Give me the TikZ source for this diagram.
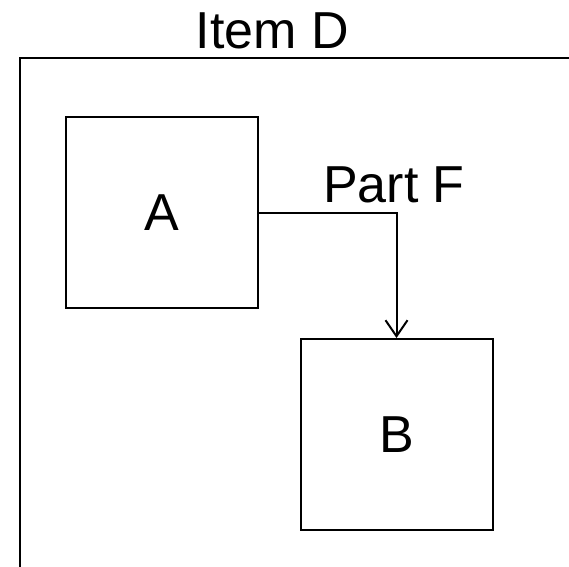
\documentclass[tikz,border=0pt]{standalone}
\usepackage{fontspec}
\setmainfont{Liberation Sans}
\usetikzlibrary{arrows.meta}
\begin{document}
\begin{tikzpicture}[x=1bp,y=-1bp,
  every node/.style={font=\fontsize{52bp}{60bp}\selectfont, inner sep=0pt},
  boxnode/.style={draw, line width=2bp, minimum width=192bp, minimum height=191bp},
  frameline/.style={draw, line width=2bp},
  conn/.style={draw, line width=2bp, -{Straight Barb[length=16bp,width=22bp,line width=2bp]}}]
\useasboundingbox (0,0) rectangle (569,567);
\clip (0,0) rectangle (569,567);
\fill[white] (0,0) rectangle (569,567);
% outer container
\coordinate (fbl) at (20,600);
\coordinate (ftl) at (20,58);
\coordinate (ftr) at (600,58);
\path[frameline] (fbl) -- (ftl) -- (ftr);
\node[anchor=base] (title) at (272.5,49) {Item D};
% boxes
\node[boxnode] (A) at (162,212.5) {A};
\node[boxnode] (B) at (396.5,434.5) {B};
% connector
\coordinate (bend) at (B.north |- A.east);
\path[conn] (A.east) -- (bend) -- (B.north);
\node[anchor=base west] (partF) at (323,202) {Part F};
\end{tikzpicture}
\end{document}
